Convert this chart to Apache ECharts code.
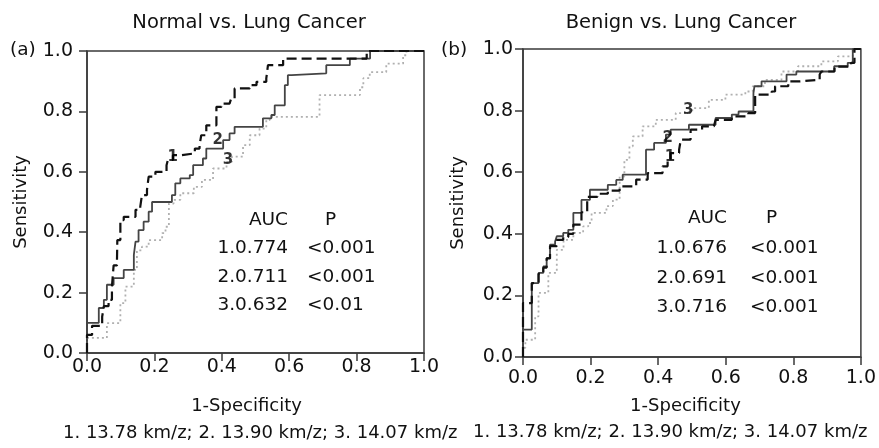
<!DOCTYPE html>
<html>
<head>
<meta charset="utf-8">
<script src="https://cdn.jsdelivr.net/npm/echarts@6/dist/echarts.min.js"></script>
<style>
  html, body { margin: 0; padding: 0; background: #fff; }
  #chart { width: 879px; height: 448px; }
</style>
</head>
<body>
<div id="chart"></div>
<script>
// ROC points as [1-specificity, sensitivity], drawn with step 'end'
const normalCurve1 = [[0,0],[0,0.06],[0.015,0.09],[0.045,0.12],[0.05,0.155],[0.064,0.176],[0.074,0.22],[0.079,0.29],[0.089,0.31],[0.09,0.374],[0.099,0.44],[0.109,0.451],[0.144,0.474],[0.158,0.484],[0.163,0.523],[0.178,0.54],[0.183,0.584],[0.203,0.6],[0.236,0.622],[0.24,0.639],[0.255,0.655],[0.28,0.661],[0.32,0.677],[0.334,0.688],[0.339,0.721],[0.354,0.754],[0.384,0.815],[0.399,0.826],[0.423,0.831],[0.428,0.843],[0.438,0.876],[0.483,0.887],[0.503,0.898],[0.532,0.909],[0.537,0.953],[0.582,0.975],[0.83,1],[1,1]];
const normalCurve2 = [[0,0],[0,0.1],[0.035,0.149],[0.05,0.176],[0.059,0.226],[0.079,0.248],[0.109,0.275],[0.139,0.325],[0.144,0.369],[0.153,0.407],[0.168,0.435],[0.183,0.468],[0.193,0.5],[0.252,0.523],[0.262,0.562],[0.277,0.578],[0.305,0.589],[0.315,0.622],[0.344,0.644],[0.354,0.677],[0.404,0.705],[0.423,0.727],[0.438,0.749],[0.522,0.777],[0.547,0.788],[0.557,0.82],[0.587,0.887],[0.596,0.92],[0.607,0.926],[0.71,0.953],[0.78,0.975],[0.84,1],[1,1]];
const normalCurve3 = [[0,0],[0,0.05],[0.059,0.099],[0.099,0.165],[0.114,0.22],[0.139,0.275],[0.148,0.34],[0.163,0.352],[0.183,0.374],[0.223,0.397],[0.233,0.418],[0.243,0.495],[0.257,0.507],[0.277,0.529],[0.317,0.55],[0.341,0.573],[0.374,0.611],[0.414,0.633],[0.43,0.65],[0.463,0.688],[0.483,0.721],[0.512,0.743],[0.532,0.771],[0.542,0.782],[0.69,0.854],[0.81,0.88],[0.82,0.91],[0.839,0.93],[0.888,0.958],[0.938,0.986],[0.948,1],[1,1]];

const benignCurve1 = [[0,0],[0,0.175],[0.026,0.24],[0.046,0.27],[0.06,0.29],[0.07,0.32],[0.08,0.36],[0.1,0.38],[0.119,0.39],[0.134,0.4],[0.149,0.43],[0.173,0.47],[0.19,0.52],[0.22,0.53],[0.251,0.54],[0.286,0.554],[0.335,0.576],[0.369,0.597],[0.413,0.619],[0.428,0.64],[0.437,0.662],[0.462,0.673],[0.467,0.706],[0.496,0.738],[0.53,0.749],[0.565,0.754],[0.57,0.77],[0.618,0.781],[0.667,0.792],[0.687,0.852],[0.736,0.862],[0.746,0.879],[0.785,0.895],[0.819,0.9],[0.878,0.917],[0.883,0.927],[0.922,0.943],[0.971,0.955],[0.981,1],[1,1]];
const benignCurve2 = [[0,0],[0,0.089],[0.026,0.24],[0.046,0.273],[0.06,0.294],[0.07,0.321],[0.08,0.365],[0.095,0.375],[0.1,0.392],[0.119,0.403],[0.134,0.413],[0.149,0.468],[0.173,0.51],[0.198,0.543],[0.251,0.559],[0.276,0.575],[0.295,0.592],[0.364,0.673],[0.388,0.695],[0.423,0.722],[0.437,0.738],[0.491,0.754],[0.57,0.776],[0.618,0.787],[0.638,0.797],[0.682,0.857],[0.685,0.879],[0.706,0.895],[0.78,0.917],[0.809,0.927],[0.921,0.944],[0.961,0.955],[0.976,1],[1,1]];
const benignCurve3 = [[0,0],[0,0.03],[0.007,0.056],[0.036,0.132],[0.046,0.208],[0.075,0.273],[0.1,0.348],[0.12,0.38],[0.149,0.403],[0.178,0.424],[0.193,0.435],[0.203,0.468],[0.247,0.49],[0.266,0.511],[0.286,0.586],[0.3,0.64],[0.315,0.684],[0.325,0.716],[0.354,0.749],[0.393,0.77],[0.452,0.792],[0.501,0.808],[0.55,0.835],[0.599,0.852],[0.658,0.862],[0.68,0.879],[0.716,0.9],[0.765,0.927],[0.814,0.944],[0.883,0.96],[0.932,0.976],[0.976,1],[1,1]];

// where the curve numbers sit, in data units
const normalLabelPos = [[0.254, 0.649], [0.388, 0.705], [0.418, 0.638]];
const benignLabelPos = [[0.435, 0.648], [0.428, 0.711], [0.489, 0.803]];
const curveNames = ['1', '2', '3'];

const normalAuc = ['1.0.774', '2.0.711', '3.0.632'];
const normalP = ['<0.001', '<0.001', '<0.01'];
const benignAuc = ['1.0.676', '2.0.691', '3.0.716'];
const benignP = ['<0.001', '<0.001', '<0.001'];

const caption = '1. 13.78 km/z; 2. 13.90 km/z; 3. 14.07 km/z';

const FONT = '"DejaVu Sans", sans-serif';
const AXIS_COLOR = '#3a3a3a';
const TEXT_COLOR = '#111';

const chart = echarts.init(document.getElementById('chart'));

function xAxisFor(gridIndex, labelMargin, nameGap, namePadRight) {
  return {
    gridIndex, type: 'value', min: 0, max: 1, interval: 0.2,
    name: '1-Specificity', nameLocation: 'middle', nameGap,
    nameTextStyle: { fontFamily: FONT, fontSize: 18, color: TEXT_COLOR, padding: [0, namePadRight, 0, 0] },
    axisLine: { show: true, lineStyle: { color: AXIS_COLOR, width: 1.5 } },
    axisTick: { show: true, length: 8, lineStyle: { color: AXIS_COLOR, width: 1.5 } },
    splitLine: { show: false },
    axisLabel: { fontFamily: FONT, fontSize: 19, color: TEXT_COLOR, margin: labelMargin, formatter: v => v.toFixed(1) }
  };
}

function yAxisFor(gridIndex, labelMargin, nameGap) {
  return {
    gridIndex, type: 'value', min: 0, max: 1, interval: 0.2,
    name: 'Sensitivity', nameLocation: 'middle', nameGap,
    nameTextStyle: { fontFamily: FONT, fontSize: 18, color: TEXT_COLOR },
    axisLine: { show: true, lineStyle: { color: AXIS_COLOR, width: 1.5 } },
    axisTick: { show: true, length: 8, lineStyle: { color: AXIS_COLOR, width: 1.5 } },
    splitLine: { show: false },
    axisLabel: { fontFamily: FONT, fontSize: 19, color: TEXT_COLOR, margin: labelMargin, formatter: v => v.toFixed(1) }
  };
}

const curveStyles = [
  { color: '#111', width: 2.2, type: [10, 5] },
  { color: '#444', width: 1.8, type: 'solid' },
  { color: '#b0b0b0', width: 1.8, type: [2, 3] }
];

function curveSeries(data, i, axisIndex) {
  return {
    type: 'line', step: 'end', data, xAxisIndex: axisIndex, yAxisIndex: axisIndex,
    showSymbol: false, symbol: 'none', silent: true, z: 3 - i,
    lineStyle: curveStyles[i]
  };
}

function labelSeries(positions, axisIndex) {
  return {
    type: 'scatter', xAxisIndex: axisIndex, yAxisIndex: axisIndex, symbolSize: 0, silent: true, z: 5,
    itemStyle: { color: '#000' },
    data: positions.map((p, i) => ({ name: curveNames[i], value: p })),
    label: { show: true, position: 'inside', formatter: '{b}', fontFamily: FONT, fontSize: 15, fontWeight: 'bold', color: '#000' }
  };
}

function txt(text, x, y, size, align) {
  return {
    type: 'text', x, y, silent: true,
    style: { text, fill: TEXT_COLOR, font: size + 'px ' + FONT, align: align || 'left', verticalAlign: 'middle' }
  };
}

function aucTable(auc, p, aucRight, pLeft, pHead, headY, rowsY) {
  const items = [txt('AUC', aucRight, headY, 18.5, 'right'), txt('P', pHead, headY, 18.5)];
  auc.forEach((a, i) => {
    items.push(txt(a, aucRight, rowsY[i], 18.5, 'right'));
    items.push(txt(p[i], pLeft, rowsY[i], 18.5));
  });
  return items;
}

const option = {
  backgroundColor: '#fff',
  animation: false,
  grid: [
    { left: 87, top: 51, width: 337, height: 302, show: true, borderColor: AXIS_COLOR, borderWidth: 1.5, backgroundColor: 'transparent' },
    { left: 523, top: 49, width: 340, height: 308, show: true, borderColor: AXIS_COLOR, borderWidth: 1.5, backgroundColor: 'transparent' }
  ],
  xAxis: [xAxisFor(0, 5, 44, 18), xAxisFor(1, 12, 40, 13)],
  yAxis: [yAxisFor(0, 14, 57), yAxisFor(1, 10, 56)],
  series: [
    curveSeries(normalCurve3, 2, 0),
    curveSeries(normalCurve2, 1, 0),
    curveSeries(normalCurve1, 0, 0),
    curveSeries(benignCurve3, 2, 1),
    curveSeries(benignCurve2, 1, 1),
    curveSeries(benignCurve1, 0, 1),
    labelSeries(normalLabelPos, 0),
    labelSeries(benignLabelPos, 1)
  ],
  graphic: [
    txt('Normal vs. Lung Cancer', 249, 23, 19.5, 'center'),
    txt('Benign vs. Lung Cancer', 681, 23, 19.5, 'center'),
    txt('(a)', 10, 50, 18.5),
    txt('(b)', 441, 50, 18.5),
    txt(caption, 63, 433, 18),
    txt(caption, 473, 432, 18),
    ...aucTable(normalAuc, normalP, 288, 307, 325, 220, [248, 277, 305]),
    ...aucTable(benignAuc, benignP, 727, 750, 766, 218, [248, 278, 307])
  ]
};

chart.setOption(option);
</script>
</body>
</html>
